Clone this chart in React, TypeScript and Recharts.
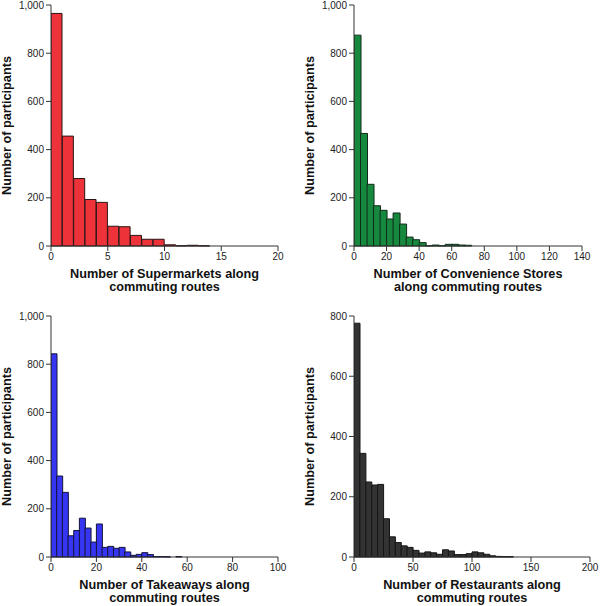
import React from "react";
import { BarChart, Bar, XAxis, YAxis, Label } from "recharts";

const FONT = '"Liberation Sans", Arial, Helvetica, sans-serif';

// Supermarkets (bin width 1)
const supermarketBinWidth = 1;
const supermarketCounts = [965, 456, 280, 193, 181, 82, 80, 44, 28, 28, 5, 1, 3, 1];
const supermarketTicks = [0, 5, 10, 15, 20];

// Convenience stores (bin width 4)
const convenienceBinWidth = 4;
const convenienceCounts = [875, 467, 256, 167, 148, 112, 137, 91, 37, 26, 14, 1, 4, 1, 7, 7, 4, 3];
const convenienceTicks = [0, 20, 40, 60, 80, 100, 120, 140];

// Takeaways (bin width 2.5)
const takeawayBinWidth = 2.5;
const takeawayCounts = [843, 336, 268, 88, 110, 161, 120, 62, 137, 40, 44, 36, 40, 21, 7, 11, 18, 10, 2, 2, 1, 0, 2];
const takeawayTicks = [0, 20, 40, 60, 80, 100];

// Restaurants (bin width 5)
const restaurantBinWidth = 5;
const restaurantCounts = [776, 344, 249, 239, 241, 127, 67, 48, 37, 32, 22, 13, 17, 14, 9, 24, 20, 8, 8, 11, 17, 14, 9, 4, 2, 1, 1];
const restaurantTicks = [0, 50, 100, 150, 200];

const yTicks1000 = [0, 200, 400, 600, 800, 1000];
const yTicks800 = [0, 200, 400, 600, 800];

const toBins = (counts: number[], w: number) =>
  counts.map((c, i) => ({ x: (i + 0.5) * w, count: c }));

const fmt = (v: number) => v.toLocaleString("en-US");

type PanelProps = {
  left: number;
  top: number;
  width: number;
  height: number;
  margin: { top: number; right: number; bottom: number; left: number };
  yAxisWidth: number;
  xAxisHeight: number;
  data: { x: number; count: number }[];
  xTicks: number[];
  yTicks: number[];
  fill: string;
  stroke: string;
  titleLines: string[];
  yTitleX: number;
};

const Panel = (p: PanelProps) => {
  const xMax = p.xTicks[p.xTicks.length - 1];
  const yMax = p.yTicks[p.yTicks.length - 1];
  return (
    <div style={{ position: "absolute", left: p.left, top: p.top }}>
      <BarChart
        width={p.width}
        height={p.height}
        data={p.data}
        margin={p.margin}
        barCategoryGap={0}
        barGap={0}
      >
        <XAxis
          dataKey="x"
          type="number"
          domain={[0, xMax]}
          ticks={p.xTicks}
          interval={0}
          height={p.xAxisHeight}
          tickSize={5}
          tickMargin={2}
          axisLine={{ stroke: "#333" }}
          tickLine={{ stroke: "#333" }}
          tick={{ fill: "#222", fontSize: 10, fontFamily: FONT }}
          allowDataOverflow
        >
          <Label
            content={(lp: any) => {
              const vb = lp.viewBox || {};
              const cx = vb.x + vb.width / 2;
              return (
                <g>
                  {p.titleLines.map((t, i) => (
                    <text
                      key={i}
                      x={cx}
                      y={vb.y + 27.5 + i * 13}
                      textAnchor="middle"
                      dominantBaseline="central"
                      fontFamily={FONT}
                      fontSize={12.7}
                      fontWeight="bold"
                      fill="#111"
                    >
                      {t}
                    </text>
                  ))}
                </g>
              );
            }}
          />
        </XAxis>
        <YAxis
          type="number"
          domain={[0, yMax]}
          ticks={p.yTicks}
          interval={0}
          width={p.yAxisWidth}
          tickSize={5}
          tickMargin={2}
          tickFormatter={fmt}
          axisLine={{ stroke: "#333" }}
          tickLine={{ stroke: "#333" }}
          tick={{ fill: "#222", fontSize: 10, fontFamily: FONT }}
        >
          <Label
            content={(lp: any) => {
              const vb = lp.viewBox || {};
              const cy = vb.y + vb.height / 2;
              return (
                <text
                  x={p.yTitleX}
                  y={cy}
                  textAnchor="middle"
                  dominantBaseline="central"
                  transform={`rotate(-90, ${p.yTitleX}, ${cy})`}
                  fontFamily={FONT}
                  fontSize={12.7}
                  fontWeight="bold"
                  fill="#111"
                >
                  Number of participants
                </text>
              );
            }}
          />
        </YAxis>
        <Bar
          dataKey="count"
          fill={p.fill}
          stroke={p.stroke}
          strokeWidth={1}
          isAnimationActive={false}
        />
      </BarChart>
    </div>
  );
};

export default function App() {
  return (
    <div
      style={{
        position: "absolute",
        left: 0,
        top: 0,
        width: 600,
        height: 606,
        background: "#fff",
        overflow: "hidden",
      }}
    >
      <Panel
        left={0}
        top={0}
        width={300}
        height={303}
        margin={{ top: 5, right: 22, bottom: 0, left: 0 }}
        yAxisWidth={51}
        xAxisHeight={57}
        data={toBins(supermarketCounts, supermarketBinWidth)}
        xTicks={supermarketTicks}
        yTicks={yTicks1000}
        fill="#ED3239"
        stroke="#2a1414"
        titleLines={["Number of Supermarkets along", "commuting routes"]}
        yTitleX={7}
      />
      <Panel
        left={300}
        top={0}
        width={300}
        height={303}
        margin={{ top: 5, right: 18, bottom: 0, left: 0 }}
        yAxisWidth={54}
        xAxisHeight={57}
        data={toBins(convenienceCounts, convenienceBinWidth)}
        xTicks={convenienceTicks}
        yTicks={yTicks1000}
        fill="#17893F"
        stroke="#102a18"
        titleLines={["Number of Convenience Stores", "along commuting routes"]}
        yTitleX={10}
      />
      <Panel
        left={0}
        top={303}
        width={300}
        height={303}
        margin={{ top: 13, right: 22, bottom: 0, left: 0 }}
        yAxisWidth={51}
        xAxisHeight={49}
        data={toBins(takeawayCounts, takeawayBinWidth)}
        xTicks={takeawayTicks}
        yTicks={yTicks1000}
        fill="#3535F2"
        stroke="#14143a"
        titleLines={["Number of Takeaways along", "commuting routes"]}
        yTitleX={7}
      />
      <Panel
        left={300}
        top={303}
        width={300}
        height={303}
        margin={{ top: 13, right: 10, bottom: 0, left: 0 }}
        yAxisWidth={54}
        xAxisHeight={49}
        data={toBins(restaurantCounts, restaurantBinWidth)}
        xTicks={restaurantTicks}
        yTicks={yTicks800}
        fill="#333333"
        stroke="#151515"
        titleLines={["Number of Restaurants along", "commuting routes"]}
        yTitleX={9.5}
      />
    </div>
  );
}
